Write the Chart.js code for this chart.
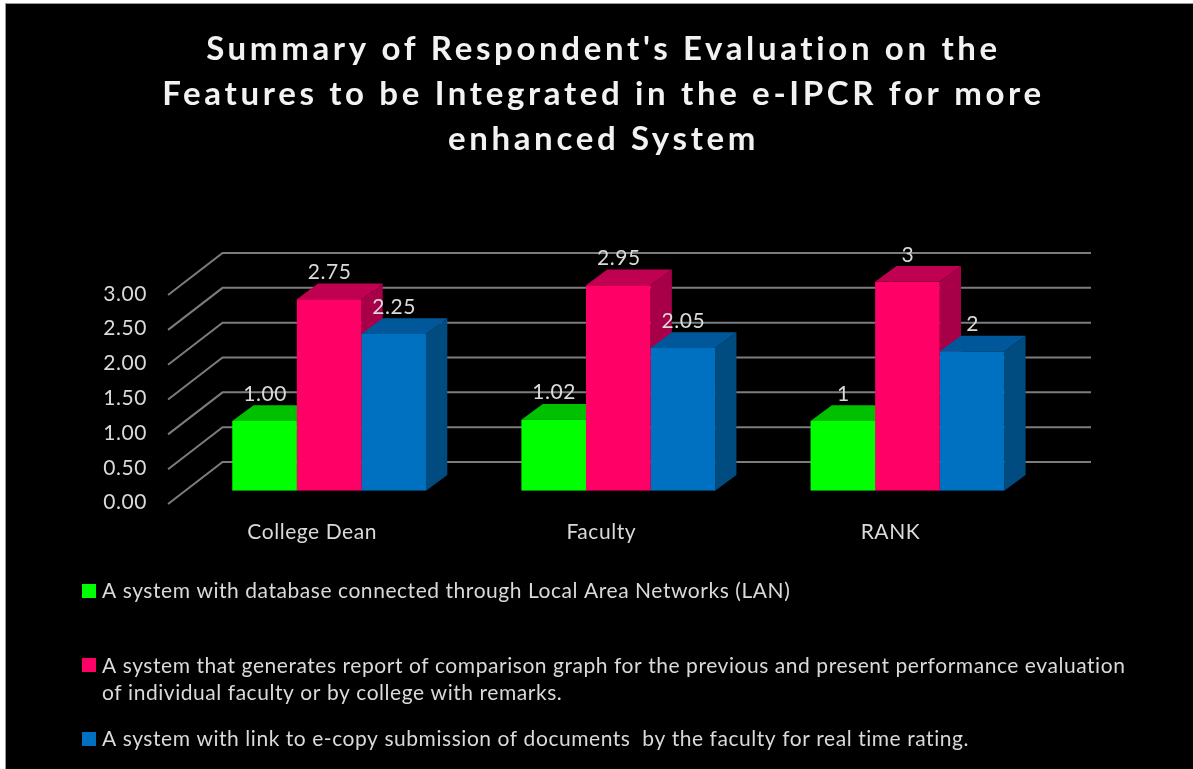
<!DOCTYPE html>
<html><head><meta charset="utf-8">
<script src="https://cdn.jsdelivr.net/npm/chart.js@4"></script>
<style>
html,body{margin:0;padding:0;background:#fff;width:1193px;height:769px;overflow:hidden}
#bg{position:absolute;left:5px;top:3px;right:0;bottom:0;background:#000;border-left:1px solid #999;border-top:1px solid #999}
#c{position:absolute;left:0;top:0;filter:blur(0.55px)}
</style></head><body>
<div id="bg"></div>
<canvas id="c" width="1193" height="769"></canvas>
<script>
const categories=["College Dean","Faculty","RANK"];
const titleLines=["Summary of Respondent's Evaluation on the","Features to be Integrated in the e-IPCR for more","enhanced System"];
const lanValues=[1.00,1.02,1];
const reportValues=[2.75,2.95,3];
const linkValues=[2.25,2.05,2];
const lanLabels=["1.00","1.02","1"];
const reportLabels=["2.75","2.95","3"];
const linkLabels=["2.25","2.05","2"];
const seriesNames=[
 "A system with database connected through Local Area Networks (LAN)",
 "A system that generates report of comparison graph for the previous and present performance evaluation of individual faculty or by college with remarks.",
 "A system with link to e-copy submission of documents  by the faculty for real time rating."];
const legendLines=[
 ["A system with database connected through Local Area Networks (LAN)"],
 ["A system that generates report of comparison graph for the previous and present performance evaluation","of individual faculty or by college with remarks."],
 ["A system with link to e-copy submission of documents  by the faculty for real time rating."]];
const frontColors=["#00FF00","#FF0066","#0070C0"];
const topColors=["#00C000","#C00050","#00589A"];
const sideColors=["#00A000","#A80048","#004B80"];
const textColor="#DADADA", gridColor="#7C7C7C";
const DX=21.3,DY=15.7;
const fontName="Lato, Carlito, sans-serif";
const bodySpacing='0.55px', titleSpacing='3.65px';

function poly(ctx,pts,fill){ctx.fillStyle=fill;ctx.beginPath();pts.forEach((p,i)=>i?ctx.lineTo(p[0],p[1]):ctx.moveTo(p[0],p[1]));ctx.closePath();ctx.fill();}

const scene={
 id:'scene',
 beforeDraw(chart){
  const ctx=chart.ctx;
  ctx.letterSpacing=bodySpacing;
  const t=chart.titleBlock;
  if(t&&!t._patched){const d=t.draw;t.draw=function(){ctx.letterSpacing=titleSpacing;d.call(t);ctx.letterSpacing=bodySpacing;};t._patched=true;}
 },
 beforeDatasetsDraw(chart){
  const ctx=chart.ctx,y=chart.scales.y,a=chart.chartArea;
  ctx.save();
  ctx.strokeStyle=gridColor;ctx.lineWidth=2;
  y.ticks.forEach(t=>{
    const p=y.getPixelForValue(t.value);
    ctx.beginPath();ctx.moveTo(a.left-16.5,p+13.3);ctx.lineTo(a.left+38,p-28.7);ctx.lineTo(a.right+39,p-28.7);ctx.stroke();
  });
  chart.data.datasets.forEach((ds,i)=>{
    chart.getDatasetMeta(i).data.forEach(b=>{
      const l=b.x-b.width/2,r=b.x+b.width/2,tp=b.y,bt=b.base;
      poly(ctx,[[r,tp],[r+DX,tp-DY],[r+DX,bt-DY],[r,bt]],sideColors[i]);
      poly(ctx,[[l,tp],[l+DX,tp-DY],[r+DX,tp-DY],[r,tp]],topColors[i]);
    });
  });
  ctx.restore();
 },
 afterDatasetsDraw(chart){
  const ctx=chart.ctx;
  ctx.save();
  ctx.font="21px "+fontName;ctx.fillStyle=textColor;ctx.textAlign='center';ctx.textBaseline='middle';
  const texts=[lanLabels,reportLabels,linkLabels];
  chart.data.datasets.forEach((ds,i)=>{
    chart.getDatasetMeta(i).data.forEach((b,j)=>{ctx.fillText(texts[i][j],b.x+0.5,b.y-27);});
  });
  ctx.textAlign='left';
  const rows=[[584,[591,0]],[658,[666,693]],[732,[739,0]]];
  rows.forEach((r,i)=>{
    ctx.fillStyle=frontColors[i];ctx.fillRect(82,r[0],14,14);
    ctx.fillStyle=textColor;
    legendLines[i].forEach((ln,k)=>ctx.fillText(ln,102,r[1][k]));
  });
  ctx.restore();
 }
};

new Chart(document.getElementById('c'),{
 type:'bar',
 data:{labels:categories,datasets:[
  {label:seriesNames[0],data:lanValues,backgroundColor:frontColors[0]},
  {label:seriesNames[1],data:reportValues,backgroundColor:frontColors[1]},
  {label:seriesNames[2],data:linkValues,backgroundColor:frontColors[2]}]},
 plugins:[scene],
 options:{
  responsive:false,animation:false,devicePixelRatio:1,
  layout:{padding:{left:14,right:0,top:0,bottom:0}},
  datasets:{bar:{categoryPercentage:0.67,barPercentage:1,borderWidth:0}},
  plugins:{
   legend:{display:false},tooltip:{enabled:false},
   title:{display:true,text:titleLines,color:'#F2F2F2',font:{family:fontName,size:33,weight:'bold',lineHeight:1.364},padding:{top:27,bottom:119.7}}
  },
  scales:{
   x:{grid:{display:false},border:{display:false},
      afterFit(s){s.height=278.3;s.paddingLeft=0;s.paddingRight=0;},
      ticks:{color:textColor,font:{family:fontName,size:21},padding:21,labelOffset:-17,maxRotation:0,autoSkip:false}},
   y:{min:0,max:3,grid:{display:false},border:{display:false},
      afterFit(s){s.width=170.55;},
      ticks:{stepSize:0.5,color:textColor,font:{family:fontName,size:21},padding:29.5,labelOffset:12,callback:v=>v.toFixed(2)}},
   rightGutter:{type:'linear',position:'right',min:0,max:3,grid:{display:false},border:{display:false},
      ticks:{display:false},afterFit(s){s.width=141;}}
  }
 }
});
</script>
</body></html>
